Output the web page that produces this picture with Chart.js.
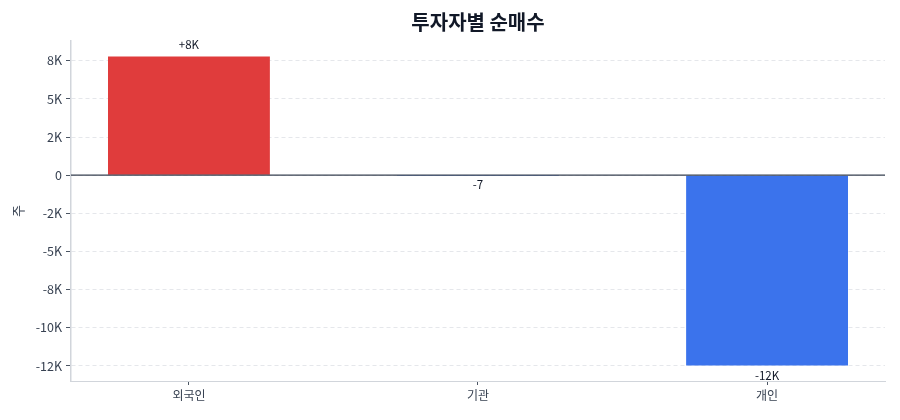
<!DOCTYPE html>
<html>
<head>
  <title>투자자별 순매수</title>
  <script src="https://cdn.jsdelivr.net/npm/chart.js"></script>
  <style>
    body { margin: 0; background: #fff; }
    canvas { display: block; }
  </style>
</head>
<body>
  <canvas id="flowChart" width="900" height="420"></canvas>
  <script>
    // Net buying by investor type (shares)
    const categories = ['외국인', '기관', '개인'];
    const netBuy = [7780, -7, -12480];
    const tickValues = [7500, 5000, 2500, 0, -2500, -5000, -7500, -10000, -12500];
    const tickLabels = ['8K', '5K', '2K', '0', '-2K', '-5K', '-8K', '-10K', '-12K'];

    const FONT = "'Noto Sans CJK KR', 'Noto Sans', sans-serif";
    const BAR_W = 0.56;

    // matplotlib-like 5% margins around the data
    const yLo = Math.min(0, ...netBuy), yHi = Math.max(0, ...netBuy);
    const yPad = (yHi - yLo) * 0.05;
    const xPad = (categories.length - 1 + BAR_W) * 0.05;

    function fmtValue(v) {
      const sign = v > 0 ? '+' : (v < 0 ? '-' : '');
      const a = Math.abs(v);
      return a >= 1000 ? sign + Math.round(a / 1000) + 'K' : sign + a;
    }

    // zero line + value labels
    const overlay = {
      id: 'overlay',
      afterDatasetsDraw(chart) {
        const { ctx, chartArea, scales } = chart;
        const y0 = scales.y.getPixelForValue(0);
        ctx.save();
        ctx.strokeStyle = '#374151';
        ctx.lineWidth = 1.3;
        ctx.beginPath();
        ctx.moveTo(chartArea.left, y0);
        ctx.lineTo(chartArea.right, y0);
        ctx.stroke();

        ctx.font = '11.5px ' + FONT;
        ctx.fillStyle = '#111827';
        ctx.textAlign = 'center';
        netBuy.forEach((v, i) => {
          const x = scales.x.getPixelForValue(i);
          const y = scales.y.getPixelForValue(v);
          if (v >= 0) {
            ctx.textBaseline = 'bottom';
            ctx.fillText(fmtValue(v), x, y - 6);
          } else {
            ctx.textBaseline = 'top';
            ctx.fillText(fmtValue(v), x, y + 4);
          }
        });
        ctx.restore();
      }
    };

    new Chart(document.getElementById('flowChart'), {
      type: 'bar',
      data: {
        datasets: [{
          data: netBuy.map((v, i) => ({ x: i, y: v })),
          backgroundColor: netBuy.map(v => v >= 0 ? '#e03c3c' : '#3b73ec'),
          borderWidth: 0,
          categoryPercentage: 1,
          barPercentage: BAR_W
        }]
      },
      options: {
        responsive: false,
        animation: false,
        layout: { padding: { left: 0, right: 15, top: 0, bottom: 0 } },
        plugins: {
          legend: { display: false },
          tooltip: { enabled: false },
          title: {
            display: true,
            text: '투자자별 순매수',
            fullSize: false,
            color: '#111827',
            font: { family: FONT, size: 20, weight: 'bold' },
            padding: { top: 10, bottom: 7 }
          }
        },
        scales: {
          x: {
            type: 'linear',
            offset: false,
            min: -BAR_W / 2 - xPad,
            max: categories.length - 1 + BAR_W / 2 + xPad,
            afterBuildTicks: s => { s.ticks = categories.map((c, i) => ({ value: i })); },
            afterFit: s => { s.height = 39; },
            ticks: {
              callback: v => categories[v],
              color: '#374151',
              font: { family: FONT, size: 12 },
              padding: 3,
              maxRotation: 0
            },
            grid: { offset: false, drawOnChartArea: false, tickLength: 4, tickColor: '#4b5563', tickWidth: 1 },
            border: { color: '#d1d5db', width: 1 }
          },
          y: {
            min: yLo - yPad,
            max: yHi + yPad,
            afterBuildTicks: s => { s.ticks = tickValues.map(v => ({ value: v })); },
            afterFit: s => { s.width = 71; },
            ticks: {
              callback: (v, i) => tickLabels[i],
              color: '#374151',
              font: { family: FONT, size: 12.5 },
              padding: 4
            },
            title: {
              display: true,
              text: '주',
              color: '#374151',
              font: { family: FONT, size: 13 },
              padding: { top: 10, bottom: 0 }
            },
            grid: {
              color: '#e5e7eb',
              lineWidth: 1,
              tickLength: 5,
              tickColor: '#4b5563',
              tickWidth: 1,
              tickBorderDash: []
            },
            border: { color: '#d1d5db', width: 1.5, dash: [4, 3] }
          }
        }
      },
      plugins: [overlay]
    });
  </script>
</body>
</html>
